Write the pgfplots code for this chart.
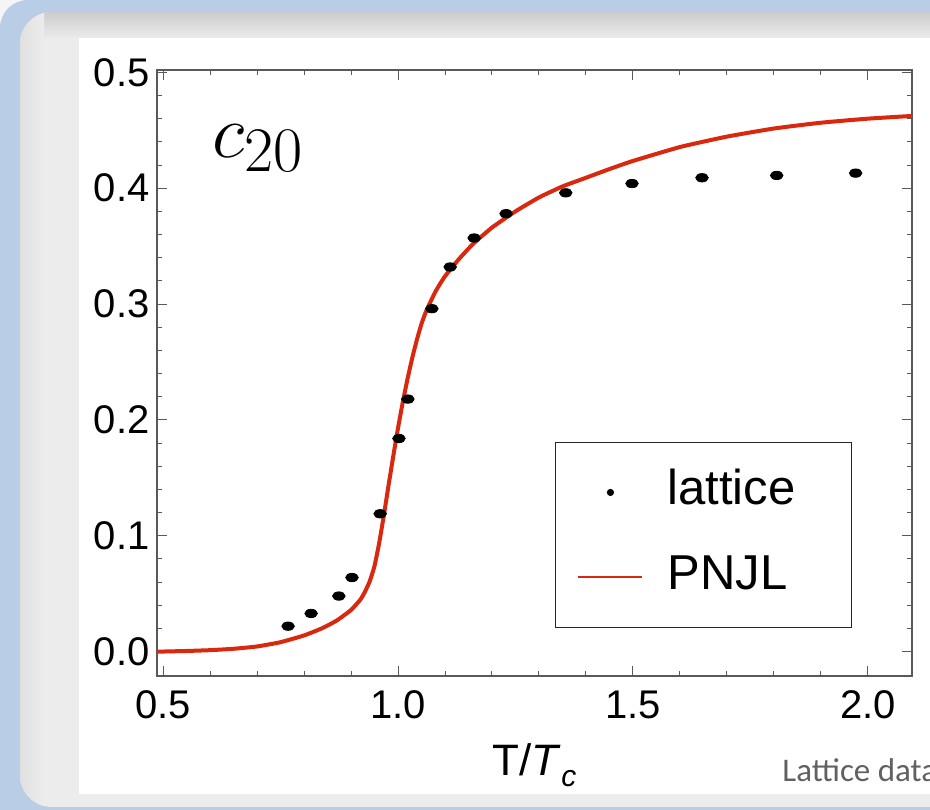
\documentclass[border=0pt]{standalone}
\usepackage[no-math]{fontspec}
\setmainfont{Liberation Sans}
\newfontfamily\carlito{Carlito}
\usepackage{graphicx}
\usepackage{pgfplots}
\pgfplotsset{compat=1.18}
\definecolor{bandblue}{RGB}{186,205,231}
\definecolor{pnjlred}{RGB}{218,40,14}
\definecolor{framegray}{RGB}{236,236,236}

\pgfplotstableread{
x y
0.487 0.0000
0.550 0.0006
0.600 0.0013
0.650 0.0025
0.700 0.0045
0.750 0.0082
0.800 0.0140
0.840 0.0205
0.870 0.0270
0.900 0.0360
0.920 0.0450
0.930 0.0520
0.940 0.0610
0.950 0.0740
0.960 0.0940
0.970 0.1180
0.980 0.1440
0.990 0.1690
1.000 0.1930
1.010 0.2150
1.020 0.2350
1.030 0.2530
1.040 0.2690
1.050 0.2830
1.060 0.2940
1.080 0.3110
1.100 0.3240
1.130 0.3390
1.160 0.3520
1.200 0.3660
1.250 0.3800
1.300 0.3920
1.350 0.4015
1.400 0.4090
1.450 0.4165
1.500 0.4235
1.600 0.4355
1.700 0.4445
1.800 0.4515
1.900 0.4565
2.000 0.4600
2.100 0.4625
}\pnjl

\pgfplotstableread{
x y
0.766 0.022
0.815 0.033
0.874 0.048
0.902 0.064
0.962 0.119
1.002 0.184
1.021 0.218
1.072 0.296
1.111 0.332
1.162 0.357
1.230 0.378
1.357 0.396
1.498 0.404
1.647 0.409
1.806 0.411
1.974 0.413
}\lattice

\begin{document}
\begin{tikzpicture}
\useasboundingbox (0pt,0pt) rectangle (465pt,404.5pt);
\clip (0pt,0pt) rectangle (465pt,404.5pt);
\fill[black!4] (0pt,0pt) rectangle (465pt,404.5pt);
\fill[bandblue, rounded corners=14pt] (0pt,-30pt) rectangle (520pt,404.5pt);
\begin{scope}
\clip[rounded corners=16pt] (10pt,1pt) rectangle (520pt,398.5pt);
\fill[framegray] (10pt,1pt) rectangle (520pt,398.5pt);
\shade[top color=black!20, bottom color=framegray] (10pt,385pt) rectangle (520pt,398.5pt);
\shade[left color=black!12, right color=framegray] (10pt,1pt) rectangle (22pt,398.5pt);
\end{scope}
\fill[white] (39.5pt,7.5pt) rectangle (465pt,385.5pt);

\begin{axis}[
  at={(78.5pt,66.5pt)}, anchor=south west,
  scale only axis, width=377.5pt, height=303pt,
  xmin=0.487, xmax=2.094, ymin=-0.021, ymax=0.502,
  xtick={0.5,1.0,1.5,2.0}, ytick={0,0.1,0.2,0.3,0.4,0.5},
  minor x tick num=4, minor y tick num=4,
  major tick length=5pt, minor tick length=2.5pt,
  tick align=inside,
  axis line style={black!65, line width=0.6pt},
  every tick/.style={black!65, line width=0.5pt},
  tick label style={font=\fontsize{20}{24}\selectfont},
  xticklabel style={anchor=base, yshift=-21pt, inner sep=0pt},
  yticklabel style={anchor=east, inner sep=0pt, xshift=-3.5pt},
  /pgf/number format/.cd, fixed, fixed zerofill, precision=1, assume math mode=true, /pgfplots/.cd,
  xlabel={T/\textit{T}\raisebox{-0.25em}{\fontsize{15}{15}\selectfont\textit{c}}},
  xlabel style={font=\fontsize{22}{26}\selectfont, at={(axis description cs:0.5,0)}, anchor=base, yshift=-49.5pt, inner sep=0pt},
  reverse legend,
  legend cell align=left,
  legend style={at={(axis cs:1.334,0.181)}, anchor=north west, draw=black!85, line width=0.5pt,
    font=\fontsize{24.5}{24.5}\selectfont, inner xsep=11pt, inner ysep=14pt,
    row sep=20.5pt, column sep=12pt,
    nodes={inner sep=0pt, text height=17pt, text depth=5pt}},
]
\addplot[pnjlred, line width=2pt, smooth, tension=0.3,
  legend image code/.code={\draw[pnjlred, line width=1pt] (0pt,0pt) -- (32pt,0pt);}]
  table[x=x, y=y] {\pnjl};
\addlegendentry{PNJL}
\addplot[only marks, mark=*, mark size=2.1pt, mark options={xscale=1.5, black, fill=black},
  legend image code/.code={\path[draw=none, fill=none] (0pt,0pt) -- (32pt,0pt); \fill[black, draw=none] (16pt,0pt) circle (1.8pt);}]
  table[x=x, y=y] {\lattice};
\addlegendentry{\makebox[81pt][l]{lattice}}
\node[anchor=base west, inner sep=0pt, font=\fontsize{24.88}{26}\selectfont] at (rel axis cs:0.0728,0.8564) {\scalebox{1.53}{$c_{20}$}};
\end{axis}

\node[anchor=base west, inner sep=0pt, font=\carlito\fontsize{16.5}{18}\selectfont, text=black!62] at (391pt,14pt) {Lattice data};
\end{tikzpicture}
\end{document}
